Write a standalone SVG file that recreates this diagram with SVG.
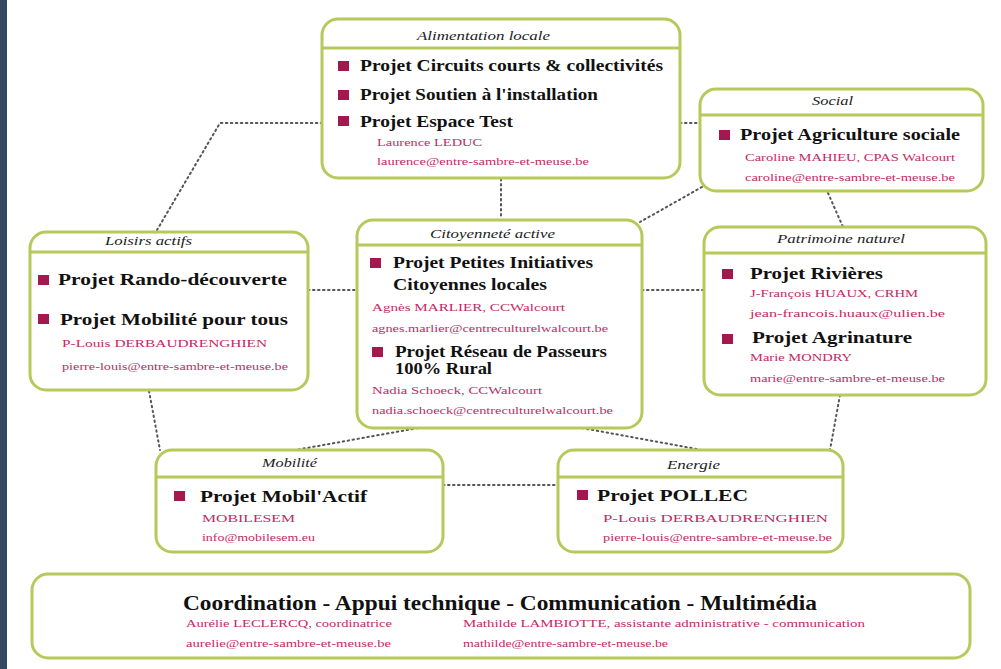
<svg xmlns="http://www.w3.org/2000/svg" width="1001" height="669" viewBox="0 0 1001 669">
<style>
.box{fill:#fff;stroke:#b8c95c;stroke-width:3}
.hl{stroke:#b8c95c;stroke-width:3}
.hd{font-family:"Liberation Serif","DejaVu Serif",serif;font-style:italic;font-size:12.5px;fill:#222}
.pj{font-family:"Liberation Serif","DejaVu Serif",serif;font-weight:bold;font-size:16.5px;fill:#111}
.ct{font-family:"Liberation Serif","DejaVu Serif",serif;font-size:11px;fill:#c42a66}
.bl{fill:#a3184f}
.cn{fill:none;stroke:#555;stroke-width:2;stroke-dasharray:1.5 3.5;stroke-linecap:round}
</style>
<rect x="0" y="0" width="1001" height="669" fill="#fff"/>
<rect x="0" y="0" width="7" height="669" fill="#34485f"/>
<g id="connectors">
<polyline class="cn" points="157,230 220,123 322,123"/>
<line class="cn" x1="680" y1="123" x2="700" y2="123"/>
<line class="cn" x1="501" y1="179" x2="501" y2="219"/>
<line class="cn" x1="702" y1="187" x2="640" y2="222"/>
<line class="cn" x1="828" y1="193" x2="843" y2="227"/>
<line class="cn" x1="308" y1="290" x2="357" y2="290"/>
<line class="cn" x1="642" y1="290" x2="703" y2="290"/>
<line class="cn" x1="149" y1="391" x2="160" y2="450"/>
<line class="cn" x1="418" y1="428" x2="290" y2="451"/>
<line class="cn" x1="582" y1="428" x2="702" y2="450"/>
<line class="cn" x1="443" y1="485" x2="558" y2="485"/>
<line class="cn" x1="840" y1="395" x2="830" y2="450"/>
</g>
<g id="alimentation">
<rect class="box" x="322" y="19" width="358" height="159" rx="16"/>
<line class="hl" x1="323" y1="48" x2="679" y2="48"/>
<text class="hd" x="417" y="40" textLength="133" lengthAdjust="spacingAndGlyphs">Alimentation locale</text>
<rect class="bl" x="338" y="61" width="11" height="10"/>
<text class="pj" x="360" y="71" textLength="303" lengthAdjust="spacingAndGlyphs">Projet Circuits courts &amp; collectivités</text>
<rect class="bl" x="338" y="90" width="11" height="10"/>
<text class="pj" x="360" y="100" textLength="238" lengthAdjust="spacingAndGlyphs">Projet Soutien à l'installation</text>
<rect class="bl" x="338" y="116" width="11" height="10"/>
<text class="pj" x="360" y="127" textLength="153" lengthAdjust="spacingAndGlyphs">Projet Espace Test</text>
<text class="ct" x="377" y="146" textLength="105" lengthAdjust="spacingAndGlyphs">Laurence LEDUC</text>
<text class="ct" x="377" y="165" textLength="212" lengthAdjust="spacingAndGlyphs">laurence@entre-sambre-et-meuse.be</text>
</g>
<g id="social">
<rect class="box" x="700" y="89" width="283" height="102" rx="16"/>
<line class="hl" x1="701" y1="115" x2="982" y2="115"/>
<text class="hd" x="812" y="105" textLength="41" lengthAdjust="spacingAndGlyphs">Social</text>
<rect class="bl" x="719" y="130" width="11" height="10"/>
<text class="pj" x="740" y="140" textLength="220" lengthAdjust="spacingAndGlyphs">Projet Agriculture sociale</text>
<text class="ct" x="745" y="161" textLength="210" lengthAdjust="spacingAndGlyphs">Caroline MAHIEU, CPAS Walcourt</text>
<text class="ct" x="745" y="181" textLength="210" lengthAdjust="spacingAndGlyphs">caroline@entre-sambre-et-meuse.be</text>
</g>
<g id="loisirs">
<rect class="box" x="30" y="232" width="278" height="158" rx="16"/>
<line class="hl" x1="31" y1="252" x2="307" y2="252"/>
<text class="hd" x="105" y="245" textLength="87" lengthAdjust="spacingAndGlyphs">Loisirs actifs</text>
<rect class="bl" x="38" y="275" width="11" height="10"/>
<text class="pj" x="58" y="285" textLength="229" lengthAdjust="spacingAndGlyphs">Projet Rando-découverte</text>
<rect class="bl" x="38" y="314" width="11" height="10"/>
<text class="pj" x="60" y="325" textLength="228" lengthAdjust="spacingAndGlyphs">Projet Mobilité pour tous</text>
<text class="ct" x="62" y="347" textLength="205" lengthAdjust="spacingAndGlyphs">P-Louis DERBAUDRENGHIEN</text>
<text class="ct" x="62" y="370" textLength="226" lengthAdjust="spacingAndGlyphs">pierre-louis@entre-sambre-et-meuse.be</text>
</g>
<g id="citoyennete">
<rect class="box" x="357" y="220" width="285" height="208" rx="16"/>
<line class="hl" x1="358" y1="245" x2="641" y2="245"/>
<text class="hd" x="430" y="238" textLength="125" lengthAdjust="spacingAndGlyphs">Citoyenneté active</text>
<rect class="bl" x="370" y="258" width="11" height="10"/>
<text class="pj" x="393" y="268" textLength="200" lengthAdjust="spacingAndGlyphs">Projet Petites Initiatives</text>
<text class="pj" x="393" y="290" textLength="154" lengthAdjust="spacingAndGlyphs">Citoyennes locales</text>
<text class="ct" x="372" y="311" textLength="193" lengthAdjust="spacingAndGlyphs">Agnès MARLIER, CCWalcourt</text>
<text class="ct" x="372" y="332" textLength="236" lengthAdjust="spacingAndGlyphs">agnes.marlier@centreculturelwalcourt.be</text>
<rect class="bl" x="372" y="347" width="11" height="10"/>
<text class="pj" x="395" y="357" textLength="212" lengthAdjust="spacingAndGlyphs">Projet Réseau de Passeurs</text>
<text class="pj" x="395" y="374" textLength="97" lengthAdjust="spacingAndGlyphs">100% Rural</text>
<text class="ct" x="372" y="394" textLength="170" lengthAdjust="spacingAndGlyphs">Nadia Schoeck, CCWalcourt</text>
<text class="ct" x="372" y="414" textLength="241" lengthAdjust="spacingAndGlyphs">nadia.schoeck@centreculturelwalcourt.be</text>
</g>
<g id="patrimoine">
<rect class="box" x="704" y="227" width="282" height="168" rx="16"/>
<line class="hl" x1="705" y1="253" x2="985" y2="253"/>
<text class="hd" x="777" y="243" textLength="128" lengthAdjust="spacingAndGlyphs">Patrimoine naturel</text>
<rect class="bl" x="722" y="269" width="11" height="10"/>
<text class="pj" x="750" y="279" textLength="133" lengthAdjust="spacingAndGlyphs">Projet Rivières</text>
<text class="ct" x="750" y="297" textLength="168" lengthAdjust="spacingAndGlyphs">J-François HUAUX, CRHM</text>
<text class="ct" x="750" y="317" textLength="195" lengthAdjust="spacingAndGlyphs">jean-francois.huaux@ulien.be</text>
<rect class="bl" x="722" y="334" width="11" height="10"/>
<text class="pj" x="752" y="343" textLength="160" lengthAdjust="spacingAndGlyphs">Projet Agrinature</text>
<text class="ct" x="750" y="361" textLength="102" lengthAdjust="spacingAndGlyphs">Marie MONDRY</text>
<text class="ct" x="750" y="382" textLength="195" lengthAdjust="spacingAndGlyphs">marie@entre-sambre-et-meuse.be</text>
</g>
<g id="mobilite">
<rect class="box" x="156" y="450" width="287" height="102" rx="16"/>
<line class="hl" x1="157" y1="477" x2="442" y2="477"/>
<text class="hd" x="262" y="467" textLength="55" lengthAdjust="spacingAndGlyphs">Mobilité</text>
<rect class="bl" x="174" y="491" width="11" height="10"/>
<text class="pj" x="200" y="502" textLength="167" lengthAdjust="spacingAndGlyphs">Projet Mobil'Actif</text>
<text class="ct" x="202" y="522" textLength="93" lengthAdjust="spacingAndGlyphs">MOBILESEM</text>
<text class="ct" x="202" y="541" textLength="113" lengthAdjust="spacingAndGlyphs">info@mobilesem.eu</text>
</g>
<g id="energie">
<rect class="box" x="558" y="450" width="285" height="102" rx="16"/>
<line class="hl" x1="559" y1="477" x2="842" y2="477"/>
<text class="hd" x="667" y="469" textLength="53" lengthAdjust="spacingAndGlyphs">Energie</text>
<rect class="bl" x="577" y="490" width="11" height="10"/>
<text class="pj" x="597" y="501" textLength="151" lengthAdjust="spacingAndGlyphs">Projet POLLEC</text>
<text class="ct" x="603" y="522" textLength="225" lengthAdjust="spacingAndGlyphs">P-Louis DERBAUDRENGHIEN</text>
<text class="ct" x="603" y="541" textLength="229" lengthAdjust="spacingAndGlyphs">pierre-louis@entre-sambre-et-meuse.be</text>
</g>
<g id="coordination">
<rect class="box" x="32" y="574" width="938" height="84" rx="16"/>
<text x="183" y="610" textLength="634" lengthAdjust="spacingAndGlyphs" style="font-family:'Liberation Serif','DejaVu Serif',serif;font-weight:bold;font-size:21px;fill:#111">Coordination - Appui technique - Communication - Multimédia</text>
<text class="ct" x="186" y="627" textLength="206" lengthAdjust="spacingAndGlyphs">Aurélie LECLERCQ, coordinatrice</text>
<text class="ct" x="186" y="647" textLength="205" lengthAdjust="spacingAndGlyphs">aurelie@entre-sambre-et-meuse.be</text>
<text class="ct" x="463" y="627" textLength="402" lengthAdjust="spacingAndGlyphs">Mathilde LAMBIOTTE, assistante administrative - communication</text>
<text class="ct" x="463" y="647" textLength="205" lengthAdjust="spacingAndGlyphs">mathilde@entre-sambre-et-meuse.be</text>
</g>
</svg>
